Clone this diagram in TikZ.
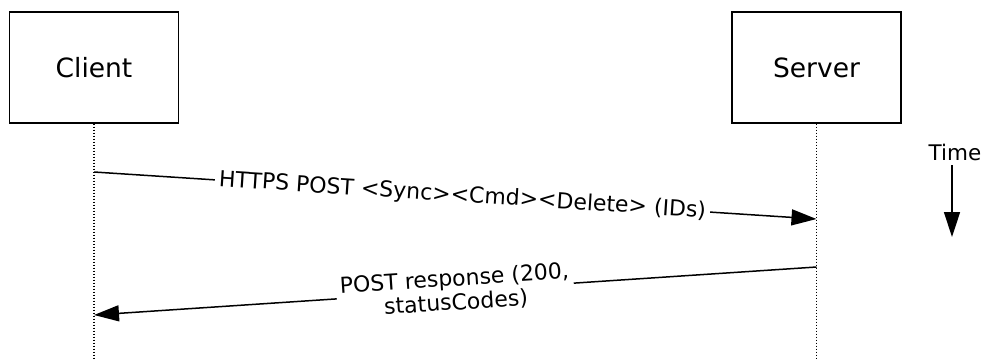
\documentclass[tikz,border=0pt]{standalone}
\usepackage{fontspec}
\setmainfont{DejaVu Sans}
\usetikzlibrary{arrows.meta,positioning}
\tikzstyle{actor} = [rectangle, draw, line width=1.4pt, minimum width=169pt,
    minimum height=111pt, font=\fontsize{26.5}{30}\selectfont]
\tikzstyle{life} = [line width=1.6pt, dash pattern=on 1.5pt off 1.5pt]
\tikzstyle{msg} = [sloped, fill=white, inner sep=4pt, font=\fontsize{22}{24}\selectfont,
    align=center]

\begin{document}
\begin{tikzpicture}[x=1pt,y=-1pt,line width=1.5pt,
                    >={Triangle[length=25pt,width=16pt]}]
  \useasboundingbox (0,0) rectangle (982,360);

  \node[actor]         (client) at (94,67.5) {Client};
  \node[actor]         (server) at (816.5,67.5) {Server};

  % lifelines
  \coordinate (cend) at (94,360);
  \coordinate (send) at (816.5,360);
  \draw[life] (client.south) -- (cend);
  \draw[life] (server.south) -- (send);

  % message ends
  \coordinate (c1) at (94,172);
  \coordinate (s1) at (816.5,219);
  \coordinate (s2) at (816.5,267);
  \coordinate (c2) at (94,315);

  \draw[->] (c1) -- node[msg,pos=0.51] {HTTPS POST <Sync><Cmd><Delete> (IDs)} (s1);
  \draw[->] (s2) -- node[msg,pos=0.5] {POST response (200,\\statusCodes)} (c2);

  % time
  \node[font=\fontsize{21.5}{23}\selectfont, inner sep=0pt] (time) at (955,152) {Time};
  \coordinate (tend) at (952,237);
  \draw[->] (time.south -| tend) ++(0,4) -- (tend);
\end{tikzpicture}
\end{document}
